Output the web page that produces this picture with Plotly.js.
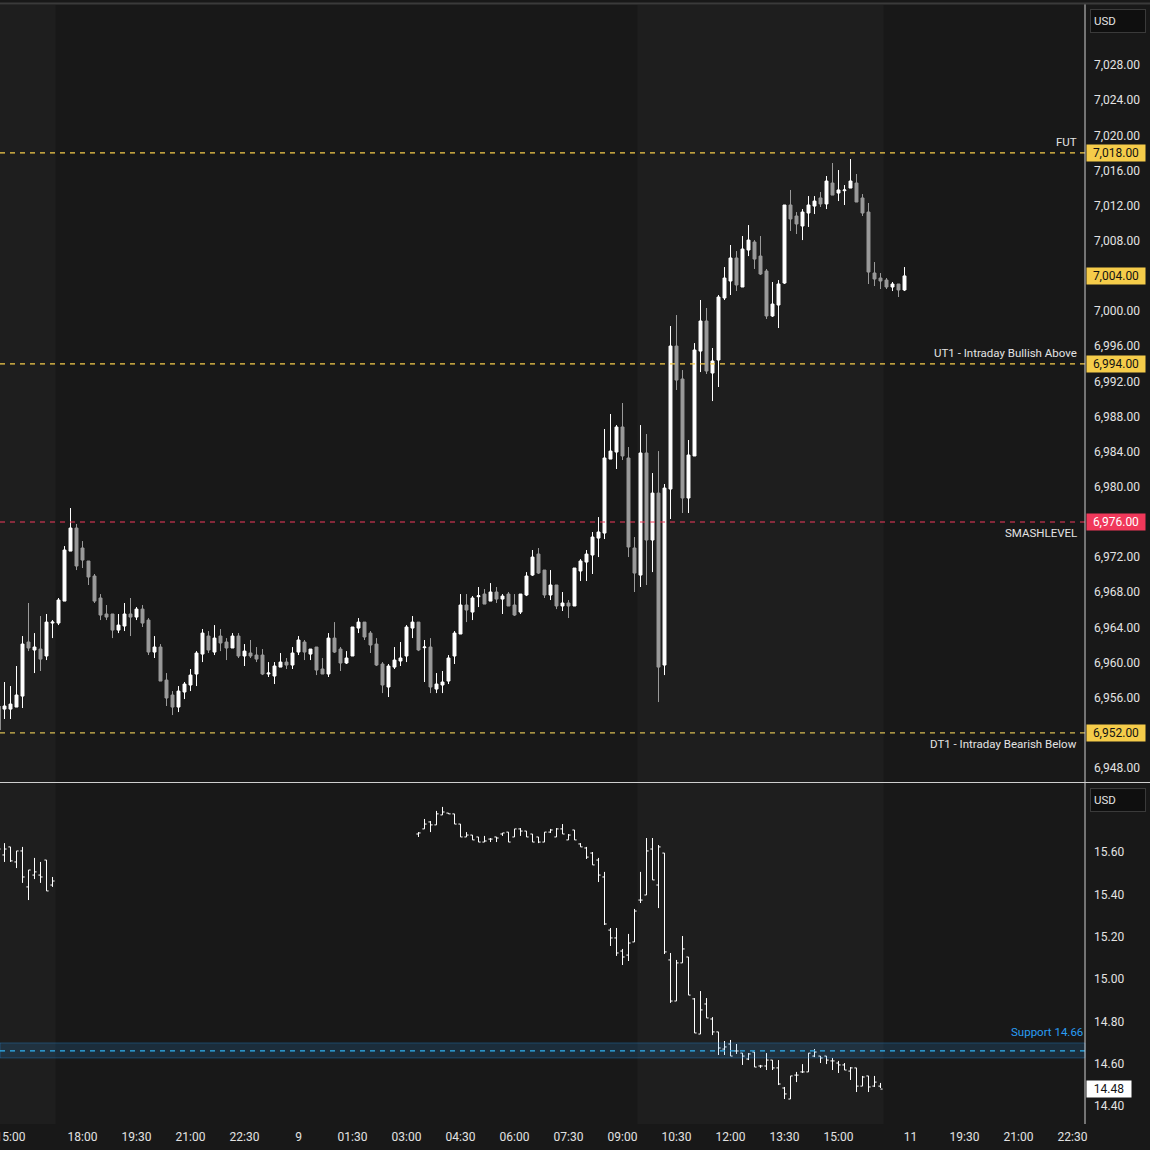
<!DOCTYPE html>
<html>
<head>
<meta charset="utf-8">
<script src="https://cdn.plot.ly/plotly-3.0.1.min.js"></script>
<style>html,body{margin:0;padding:0;background:#181818;}#chart{width:1150px;height:1150px;}</style>
</head>
<body>
<div id="chart"></div>
<script>
// ---------- DATA ----------
// bar index (10-minute bars, session gap 17:00-18:00 removed); first bar index = -1
const esFirstBar = -1;
const esOpen = [6952.32,6954.71,6954.71,6954.94,6956.19,6962.34,6961.43,6961.54,6960.75,6964.50,6964.50,6967.00,6972.69,6975.31,6973.04,6971.56,6969.85,6967.35,6965.53,6965.53,6963.70,6964.16,6965.53,6965.18,6966.09,6964.84,6961.20,6961.77,6958.01,6956.31,6954.94,6956.65,6957.45,6958.70,6960.97,6963.02,6961.20,6963.02,6962.34,6961.66,6963.02,6960.75,6961.09,6960.86,6960.86,6958.70,6958.47,6959.49,6960.06,6959.72,6961.20,6962.34,6960.97,6961.77,6959.27,6958.70,6962.79,6961.54,6959.95,6960.75,6963.93,6964.61,6963.36,6962.11,6959.84,6957.22,6959.49,6960.18,6960.75,6963.93,6964.61,6961.70,6961.77,6956.99,6957.45,6957.90,6960.75,6963.25,6966.55,6965.75,6967.50,6967.80,6967.00,6968.03,6967.23,6967.80,6966.55,6965.75,6967.69,6969.96,6972.35,6970.53,6967.69,6968.83,6966.44,6966.78,6966.44,6970.42,6971.44,6972.24,6974.17,6974.74,6983.16,6983.96,6986.81,6983.28,6973.04,6969.96,6983.85,6973.95,6979.29,6959.72,6979.75,6996.02,6992.27,6978.73,6983.51,6995.45,6998.87,6992.95,6994.43,7001.49,7003.42,7006.04,7002.74,7006.95,7007.86,7006.26,7004.56,6999.44,7000.69,7003.19,7012.07,7010.82,7009.68,7011.16,7011.95,7012.87,7012.19,7014.57,7013.43,7013.70,7014.00,7014.57,7012.87,7011.27,7004.33,7003.76,7003.53,7002.74,7003.08,7002.40];
const esHigh = [6955.74,6957.79,6957.33,6959.61,6963.02,6966.78,6963.36,6965.30,6965.53,6964.84,6967.35,6973.26,6977.59,6975.77,6973.83,6971.56,6970.08,6967.80,6966.55,6965.53,6965.53,6966.78,6967.35,6966.32,6966.55,6965.07,6963.02,6962.11,6958.81,6956.76,6957.33,6957.79,6959.27,6961.31,6963.82,6963.59,6964.27,6963.82,6962.79,6963.36,6963.36,6962.11,6962.57,6961.77,6961.54,6960.06,6960.06,6961.09,6960.52,6961.77,6963.02,6962.57,6961.54,6961.77,6960.52,6963.36,6964.61,6961.77,6961.31,6964.05,6965.07,6964.61,6963.59,6962.79,6960.06,6959.84,6961.77,6962.34,6964.27,6965.30,6964.61,6962.57,6962.79,6958.81,6959.04,6960.86,6963.59,6967.80,6967.80,6967.57,6968.60,6968.37,6969.05,6968.60,6967.80,6968.03,6967.80,6967.80,6970.30,6972.81,6973.04,6970.53,6970.53,6968.83,6968.03,6967.12,6970.76,6971.78,6972.81,6974.86,6976.56,6986.58,6988.29,6987.03,6989.54,6984.53,6974.29,6987.03,6986.01,6981.57,6984.07,6980.32,6998.30,6999.55,6993.29,6985.33,6996.36,7001.26,7000.35,6995.80,7001.83,7005.01,7007.52,7006.83,7008.54,7009.79,7008.08,7008.54,7004.79,7003.31,7003.53,7012.07,7013.78,7011.27,7011.61,7013.09,7013.09,7013.55,7015.37,7016.85,7016.05,7014.34,7017.30,7015.60,7013.32,7012.30,7005.58,7004.33,7003.76,7003.31,7003.08,7005.01];
const esLow = [6951.98,6953.58,6953.58,6954.94,6954.83,6961.31,6958.81,6959.04,6960.29,6962.79,6964.27,6967.00,6972.69,6970.53,6970.76,6968.83,6966.78,6964.84,6964.84,6962.79,6963.36,6963.59,6963.02,6964.84,6964.05,6960.86,6960.52,6957.90,6955.06,6954.03,6954.37,6955.85,6956.76,6957.33,6960.06,6961.09,6960.86,6961.31,6960.29,6961.66,6960.52,6959.61,6960.52,6960.06,6958.58,6958.36,6957.56,6959.49,6959.27,6959.27,6960.86,6960.29,6960.29,6958.58,6958.70,6958.36,6961.09,6959.04,6959.84,6960.75,6963.36,6962.57,6961.09,6959.61,6956.53,6956.08,6959.27,6959.61,6960.06,6962.79,6961.31,6957.79,6956.53,6956.53,6956.53,6957.56,6959.84,6963.25,6964.61,6964.84,6966.32,6966.66,6967.00,6966.78,6965.53,6966.44,6965.30,6965.53,6967.57,6969.85,6970.08,6967.35,6967.12,6966.09,6965.87,6965.07,6966.44,6969.28,6969.28,6970.08,6972.01,6974.06,6983.16,6982.03,6983.05,6972.01,6968.03,6968.60,6968.83,6970.30,6955.51,6958.58,6976.34,6991.02,6977.02,6977.02,6983.51,6993.06,6992.84,6989.76,6991.36,7001.26,7001.83,7002.28,7002.74,7006.26,7004.79,7004.11,6999.10,6999.33,6998.07,7003.08,7009.11,7008.77,7008.08,7009.57,7011.04,7011.84,7011.61,7013.20,7012.52,7012.07,7014.00,7012.41,7010.82,7003.08,7002.85,7002.51,7002.51,7002.28,7001.60,7002.28];
const esClose = [6955.06,6955.06,6955.28,6956.31,6962.11,6961.66,6961.77,6960.40,6964.61,6964.61,6967.12,6972.81,6975.31,6970.99,6971.67,6969.74,6967.00,6965.41,6965.18,6963.70,6964.27,6965.53,6965.18,6966.09,6964.50,6961.20,6961.77,6957.90,6955.97,6954.94,6956.76,6957.56,6958.58,6961.09,6963.36,6961.43,6962.79,6962.23,6961.66,6963.02,6960.75,6961.31,6960.75,6960.40,6958.70,6958.81,6959.61,6960.06,6959.72,6961.09,6962.57,6961.20,6961.54,6959.15,6958.70,6962.79,6961.20,6959.95,6960.52,6964.05,6964.61,6962.91,6962.00,6959.72,6957.45,6959.61,6960.29,6960.52,6964.05,6964.61,6961.43,6961.77,6957.22,6957.56,6957.79,6960.52,6963.36,6966.55,6965.98,6967.35,6967.60,6966.66,6968.03,6967.23,6967.57,6966.44,6965.41,6967.80,6969.85,6972.01,6970.19,6967.69,6968.83,6966.44,6966.78,6966.44,6970.76,6971.56,6972.35,6974.29,6974.86,6983.28,6984.07,6986.81,6983.51,6973.15,6970.19,6983.85,6973.95,6979.29,6959.49,6979.86,6996.02,6992.15,6978.73,6983.62,6995.57,6998.87,6993.18,6994.32,7001.60,7003.76,7006.04,7002.97,7007.06,7008.08,7005.92,7004.22,6999.44,7000.80,7003.08,7012.07,7010.48,7009.91,7011.27,7012.07,7012.52,7012.19,7014.80,7013.20,7013.78,7013.78,7014.80,7012.41,7011.16,7004.44,7003.65,7003.42,7002.74,7003.08,7002.40,7004.00];

// lower pane: bars by index, with a data gap
const volBars = [-1,0,1,2,3,4,5,6,7,8,
  69,70,71,72,73,74,75,76,77,78,79,80,81,82,83,84,85,86,87,88,89,90,91,92,93,94,95,96,97,98,99,100,101,102,103,104,105,106,107,108,109,110,111,112,113,114,115,116,117,118,119,120,121,122,123,124,125,126,127,128,129,130,131,132,133,134,135,136,137,138,139,140,141,142,143,144,145,146];
const volOpen = [15.600,15.586,15.624,15.553,15.605,15.435,15.491,15.491,15.562,15.444,
  15.685,15.709,15.742,15.728,15.775,15.784,15.780,15.732,15.671,15.680,15.671,15.647,15.661,15.671,15.685,15.694,15.671,15.709,15.699,15.685,15.671,15.647,15.694,15.671,15.709,15.657,15.704,15.638,15.619,15.595,15.562,15.482,15.231,15.194,15.132,15.113,15.175,15.373,15.397,15.614,15.444,15.595,15.090,14.896,15.076,15.104,14.906,14.740,14.882,14.811,14.750,14.669,14.693,14.660,14.650,14.622,14.655,14.589,14.589,14.617,14.580,14.485,14.433,14.546,14.561,14.561,14.636,14.636,14.636,14.613,14.603,14.594,14.565,14.580,14.494,14.542,14.494,14.494];
const volHigh = [15.633,15.642,15.624,15.605,15.624,15.515,15.572,15.553,15.562,15.482,
  15.694,15.756,15.746,15.794,15.813,15.784,15.780,15.732,15.694,15.680,15.671,15.676,15.666,15.671,15.690,15.694,15.709,15.713,15.699,15.685,15.671,15.694,15.709,15.713,15.732,15.685,15.704,15.642,15.624,15.600,15.572,15.506,15.241,15.241,15.142,15.213,15.331,15.506,15.666,15.666,15.633,15.595,15.123,15.090,15.203,15.104,14.910,14.943,14.910,14.820,14.750,14.707,14.712,14.693,14.650,14.650,14.655,14.594,14.650,14.617,14.617,14.490,14.542,14.561,14.598,14.650,14.669,14.636,14.636,14.627,14.613,14.603,14.584,14.580,14.542,14.542,14.542,14.509];
const volLow = [15.586,15.553,15.553,15.524,15.454,15.373,15.472,15.454,15.416,15.435,
  15.671,15.709,15.694,15.728,15.775,15.780,15.732,15.671,15.671,15.657,15.647,15.647,15.647,15.647,15.676,15.647,15.671,15.676,15.671,15.647,15.642,15.647,15.690,15.671,15.685,15.657,15.657,15.624,15.567,15.539,15.458,15.255,15.156,15.109,15.066,15.085,15.175,15.359,15.397,15.468,15.335,15.118,14.887,14.896,15.076,14.924,14.745,14.740,14.816,14.735,14.641,14.641,14.636,14.646,14.594,14.617,14.584,14.580,14.570,14.570,14.499,14.433,14.433,14.513,14.556,14.561,14.631,14.603,14.598,14.570,14.556,14.570,14.523,14.466,14.494,14.466,14.490,14.485];
const volClose = [15.614,15.614,15.558,15.605,15.482,15.515,15.506,15.482,15.416,15.463,
  15.690,15.732,15.728,15.780,15.789,15.780,15.732,15.671,15.680,15.657,15.647,15.652,15.661,15.666,15.690,15.647,15.709,15.699,15.671,15.647,15.647,15.694,15.704,15.709,15.685,15.680,15.657,15.624,15.576,15.539,15.491,15.260,15.194,15.123,15.104,15.170,15.321,15.373,15.605,15.468,15.624,15.128,14.896,15.076,15.142,14.924,14.745,14.854,14.816,14.750,14.674,14.679,14.636,14.660,14.636,14.646,14.584,14.589,14.617,14.580,14.504,14.457,14.542,14.546,14.561,14.650,14.655,14.627,14.617,14.613,14.594,14.570,14.580,14.494,14.537,14.490,14.513,14.480];

// time axis labels at bar indices
const timeTickBars = [1,13,22,31,40,49,58,67,76,85,94,103,112,121,130,139,151,160,169,178];
const timeTickLabels = ['15:00','18:00','19:30','21:00','22:30','9','01:30','03:00','04:30','06:00','07:30','09:00','10:30','12:00','13:30','15:00','11','19:30','21:00','22:30'];

// regular trading hours sessions (bar-index boundaries)
const rthSessions = [[-2, 8.5], [105.5, 146.5]];

// key price levels (upper pane)
const levelNames  = ['FUT', 'UT1 - Intraday Bullish Above', 'SMASHLEVEL', 'DT1 - Intraday Bearish Below'];
const levelPrices = [7018, 6994, 6976, 6952];
const lastPrice = 7004;

// price axis ticks
const priceTicks = [7028,7024,7020,7016,7012,7008,7000,6996,6992,6988,6984,6980,6972,6968,6964,6960,6956,6948];
const volTicks = [15.60,15.40,15.20,15.00,14.80,14.60,14.40];
const supportLevel = 14.66;
const supportZone = [14.627, 14.698];
const lastVol = 14.48;

// ---------- LAYOUT GEOMETRY ----------
const W = 1150, H = 1150;
const plotRight = 1085;
const pxY = p => 1 - p / H;
const topDom = [pxY(780), pxY(5)];
const botDom = [pxY(1124), pxY(785)];
const xRange = [-0.75, (plotRight - 4.5) / 6];

const esBars = esOpen.map((_, i) => esFirstBar + i);

const FONT = 'Roboto, "Noto Sans", sans-serif';
const TXT = '#e3e3e3';
const UP = '#ffffff', DOWN = '#9a9a9a';
const YEL = '#f5cc4a', RED = '#f0385a', BLUE = '#2a9df4';

const traces = [
  {
    type: 'candlestick', x: esBars, open: esOpen, high: esHigh, low: esLow, close: esClose,
    xaxis: 'x', yaxis: 'y',
    increasing: {line: {color: UP, width: 1}, fillcolor: UP},
    decreasing: {line: {color: DOWN, width: 1}, fillcolor: DOWN},
    whiskerwidth: 0, hoverinfo: 'skip', showlegend: false
  },
  {
    type: 'ohlc', x: volBars, open: volOpen, high: volHigh, low: volLow, close: volClose,
    xaxis: 'x', yaxis: 'y2', tickwidth: 0.35,
    increasing: {line: {color: '#ffffff', width: 1}},
    decreasing: {line: {color: '#ffffff', width: 1}},
    hoverinfo: 'skip', showlegend: false
  }
];

const shapes = [];
// RTH shading
rthSessions.forEach(s => shapes.push({type: 'rect', xref: 'x', yref: 'paper', x0: s[0], x1: s[1], y0: botDom[0], y1: topDom[1], fillcolor: '#1e1e1e', line: {width: 0}, layer: 'below'}));
// level lines
const levelColors = [YEL, YEL, RED, '#d6bb52'];
levelPrices.forEach((p, i) => shapes.push({type: 'line', xref: 'paper', yref: 'y', x0: 0, x1: plotRight / W, y0: p, y1: p, line: {color: levelColors[i], width: 1.2, dash: '5px,5px'}}));
// support zone
shapes.push({type: 'rect', xref: 'paper', yref: 'y2', x0: 0, x1: plotRight / W, y0: supportZone[0], y1: supportZone[1], fillcolor: 'rgba(42,157,244,0.16)', line: {color: 'rgba(42,157,244,0.30)', width: 1}});
shapes.push({type: 'line', xref: 'paper', yref: 'y2', x0: 0, x1: plotRight / W, y0: supportLevel, y1: supportLevel, line: {color: '#2fb4f4', width: 1.2, dash: '5px,5px'}});
// frame lines
shapes.push({type: 'line', xref: 'paper', yref: 'paper', x0: 0, x1: 1, y0: pxY(782.5), y1: pxY(782.5), line: {color: '#cfcfcf', width: 1}});
shapes.push({type: 'line', xref: 'paper', yref: 'paper', x0: plotRight / W, x1: plotRight / W, y0: pxY(1124), y1: pxY(4), line: {color: '#cfcfcf', width: 1}});
shapes.push({type: 'line', xref: 'paper', yref: 'paper', x0: 0, x1: 1, y0: pxY(3.5), y1: pxY(3.5), line: {color: '#3a3a3a', width: 2}});

const annotations = [];
// level labels
const above = [true, true, false, false];
levelNames.forEach((n, i) => annotations.push({
  xref: 'paper', yref: 'y', x: 1079 / W, y: levelPrices[i], xanchor: 'right',
  yanchor: above[i] ? 'bottom' : 'top', yshift: above[i] ? 2 : -2,
  text: n, showarrow: false, font: {family: FONT, size: 11.5, color: TXT}
}));
// price boxes on axis
const fmt = v => v.toLocaleString('en-US', {minimumFractionDigits: 2, maximumFractionDigits: 2});
const boxes = [
  {y: levelPrices[0], bg: YEL, fg: '#131313', ax: 'y', w: 56},
  {y: lastPrice, bg: YEL, fg: '#131313', ax: 'y', w: 56},
  {y: levelPrices[1], bg: YEL, fg: '#131313', ax: 'y', w: 56},
  {y: levelPrices[2], bg: RED, fg: '#ffffff', ax: 'y', w: 56},
  {y: levelPrices[3], bg: YEL, fg: '#131313', ax: 'y', w: 56},
  {y: lastVol, bg: '#ffffff', fg: '#131313', ax: 'y2', w: 42}
];
boxes.forEach(b => annotations.push({
  xref: 'paper', yref: b.ax, x: 1086 / W, y: b.y, xanchor: 'left', yanchor: 'middle',
  text: fmt(b.y), showarrow: false, bgcolor: b.bg, borderpad: 1, width: b.w, height: 14, align: 'center',
  font: {family: FONT, size: 12, color: b.fg}
}));
// support label
annotations.push({xref: 'paper', yref: 'y2', x: plotRight / W, y: supportZone[1], xanchor: 'right', yanchor: 'bottom', yshift: 2,
  text: 'Support ' + supportLevel.toFixed(2), showarrow: false, font: {family: FONT, size: 11.5, color: BLUE}});
// USD boxes
[pxY(21), pxY(800)].forEach(yy => annotations.push({xref: 'paper', yref: 'paper', x: 1090 / W, y: yy, xanchor: 'left', yanchor: 'middle',
  text: 'USD', showarrow: false, bgcolor: '#0f0f0f', bordercolor: '#3a3a3a', borderwidth: 1, borderpad: 3, width: 48, height: 16, align: 'left',
  font: {family: FONT, size: 11.5, color: TXT}}));

const layout = {
  width: W, height: H, margin: {l: 0, r: 0, t: 0, b: 0},
  paper_bgcolor: '#181818', plot_bgcolor: '#181818',
  showlegend: false, dragmode: false,
  xaxis: {
    domain: [0, plotRight / W], range: xRange, anchor: 'y2',
    tickvals: timeTickBars, ticktext: timeTickLabels, ticks: '', showgrid: false, zeroline: false, showline: false,
    tickfont: {family: FONT, size: 12, color: TXT}, rangeslider: {visible: false}, fixedrange: true,
    ticklabeloverflow: 'allow', ticklabelstandoff: 4
  },
  yaxis: {
    domain: topDom, range: [6946.64, 7034.83], side: 'right', anchor: 'x',
    tickvals: priceTicks, tickformat: ',.2f', ticks: '', showgrid: false, zeroline: false, showline: false,
    tickfont: {family: FONT, size: 12, color: TXT}, ticklabelstandoff: 8, fixedrange: true
  },
  yaxis2: {
    domain: botDom, range: [14.315, 15.9165], side: 'right', anchor: 'x',
    tickvals: volTicks, tickformat: '.2f', ticks: '', showgrid: false, zeroline: false, showline: false,
    tickfont: {family: FONT, size: 12, color: TXT}, ticklabelstandoff: 8, fixedrange: true
  },
  shapes: shapes, annotations: annotations
};

Plotly.newPlot('chart', traces, layout, {staticPlot: true, displayModeBar: false});
</script>
</body>
</html>
